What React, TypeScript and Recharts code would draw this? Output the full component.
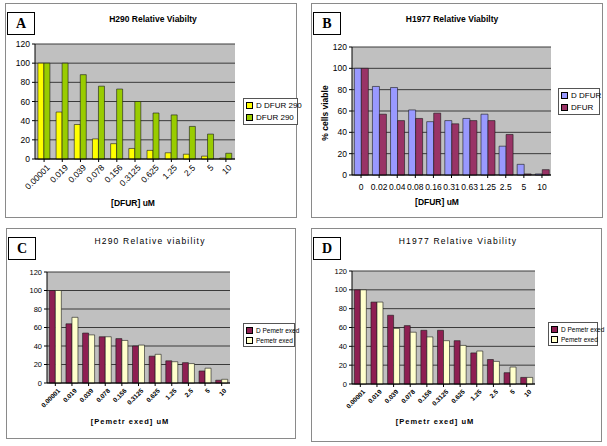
import { Bar, BarChart, CartesianGrid, Legend, XAxis, YAxis } from "recharts";

// dose labels
const dosesH290 = ["0.00001", "0.019", "0.039", "0.078", "0.156", "0.3125", "0.625", "1.25", "2.5", "5", "10"];
const dosesH1977 = ["0", "0.02", "0.04", "0.08", "0.16", "0.31", "0.63", "1.25", "2.5", "5", "10"];

// A - H290 DFUR
const dDfur290 = [100, 49, 36, 21, 16, 11, 9, 6.5, 5, 3, 1];
const dfur290 = [100, 100, 88, 76, 73, 60, 48, 46, 34, 26, 6];

// B - H1977 DFUR
const dDfur1977 = [100, 83, 82, 61, 50, 51, 53, 57, 27, 10, 1];
const dfur1977 = [100, 57, 51, 53, 58, 48, 51, 51, 38, 1, 5];

// C - H290 pemetrexed
const dPem290 = [100, 64, 54, 50, 48, 40, 29, 24, 22, 13, 3];
const pem290 = [100, 71, 52, 50, 46, 41, 31, 23, 21, 16, 4];

// D - H1977 pemetrexed
const dPem1977 = [100, 87, 73, 62, 57, 57, 46, 33, 26, 12, 7];
const pem1977 = [100, 87, 59, 55, 50, 46, 41, 35, 24, 18, 7];

const yTicks = [0, 20, 40, 60, 80, 100, 120];
const FONT = "'Liberation Sans', Arial, sans-serif";

type Box = { x: number; y: number; w: number; h: number };
type Plot = { l: number; t: number; r: number; b: number };
type SeriesDef = { name: string; values: number[]; fill: string };

type PanelProps = {
  letter: string;
  box: Box;
  plot: Plot;
  title: string;
  titleX: number;
  titleY: number;
  titleStyle?: React.CSSProperties;
  categories: string[];
  series: SeriesDef[];
  xTitle: string;
  xTitleX: number;
  xTitleY: number;
  xTitleStyle?: React.CSSProperties;
  yTitle?: string;
  yTitleX?: number;
  yTitleY?: number;
  yTickSize?: number;
  legendBox: Box;
  legendFont?: React.CSSProperties;
  rotated: boolean;
  tickStyle: Record<string, unknown>;
  gap: string;
};

function Panel(p: PanelProps) {
  const yW = 24;
  const xH = 40;
  const data = p.categories.map((c, i) => {
    const row: Record<string, string | number> = { dose: c };
    p.series.forEach((s) => (row[s.name] = s.values[i]));
    return row;
  });
  const margin = {
    left: p.plot.l - p.box.x - yW,
    top: p.plot.t - p.box.y,
    right: p.box.x + p.box.w - p.plot.r,
    bottom: p.box.y + p.box.h - p.plot.b - xH,
  };
  const lb = p.legendBox;

  return (
    <>
      <div
        style={{
          position: "absolute",
          left: p.box.x,
          top: p.box.y,
          width: p.box.w,
          height: p.box.h,
          border: "1px solid #8a8a8a",
          boxSizing: "border-box",
          background: "#fff",
        }}
      />
      <div style={{ position: "absolute", left: p.box.x, top: p.box.y }}>
        <BarChart
          width={p.box.w}
          height={p.box.h}
          data={data}
          margin={margin}
          barCategoryGap={p.gap}
          barGap={0}
        >
          <CartesianGrid vertical={false} fill="#c0c0c0" stroke="#3a3a3a" strokeWidth={1} />
          <XAxis
            dataKey="dose"
            height={xH}
            interval={0}
            stroke="#000"
            tickSize={3}
            tick={{ fill: "#000", fontFamily: FONT, ...p.tickStyle }}
            angle={p.rotated ? -45 : 0}
            textAnchor={p.rotated ? "end" : "middle"}
            dx={p.rotated ? 2 : 0}
          />
          <YAxis
            width={yW}
            domain={[0, 120]}
            ticks={yTicks}
            interval={0}
            stroke="#000"
            tickSize={3}
            tick={{ fill: "#000", fontFamily: FONT, fontSize: p.yTickSize ?? 8.5 }}
          />
          <Legend
            layout="vertical"
            align="center"
            verticalAlign="middle"
            wrapperStyle={{ left: lb.x - p.box.x, top: lb.y - p.box.y, width: lb.w, height: lb.h }}
            content={() => (
              <div
                style={{
                  width: lb.w,
                  height: lb.h,
                  boxSizing: "border-box",
                  border: "1px solid #555",
                  background: "#fff",
                  display: "flex",
                  flexDirection: "column",
                  justifyContent: "space-around",
                  padding: "1px 2px",
                  fontFamily: FONT,
                  fontSize: 8,
                  ...p.legendFont,
                }}
              >
                {p.series.map((s) => (
                  <div key={s.name} style={{ display: "flex", alignItems: "center", whiteSpace: "nowrap" }}>
                    <div
                      style={{
                        flex: "0 0 auto",
                        width: 5,
                        height: 5,
                        minWidth: 5,
                        background: s.fill,
                        border: "1px solid #000",
                        marginRight: 3,
                      }}
                    />
                    <span>{s.name}</span>
                  </div>
                ))}
              </div>
            )}
          />
          {p.series.map((s) => (
            <Bar
              key={s.name}
              dataKey={s.name}
              fill={s.fill}
              stroke="#1a1a1a"
              strokeWidth={0.6}
              isAnimationActive={false}
            />
          ))}
        </BarChart>
      </div>
      <div
        style={{
          position: "absolute",
          left: p.box.x + 2,
          top: p.box.y + 9,
          width: 28,
          height: 23,
          border: "1px solid #000",
          background: "#fff",
          boxSizing: "border-box",
          fontFamily: "'Liberation Serif', 'Times New Roman', serif",
          fontWeight: "bold",
          fontSize: 14,
          display: "flex",
          alignItems: "center",
          justifyContent: "center",
        }}
      >
        {p.letter}
      </div>
      <div
        style={{
          position: "absolute",
          left: p.titleX - 100,
          top: p.titleY - 6,
          width: 200,
          textAlign: "center",
          fontFamily: FONT,
          fontSize: 8.5,
          fontWeight: "bold",
          lineHeight: "12px",
          ...p.titleStyle,
        }}
      >
        {p.title}
      </div>
      <div
        style={{
          position: "absolute",
          left: p.xTitleX - 80,
          top: p.xTitleY - 6,
          width: 160,
          textAlign: "center",
          fontFamily: FONT,
          fontSize: 8.5,
          fontWeight: "bold",
          lineHeight: "12px",
          ...p.xTitleStyle,
        }}
      >
        {p.xTitle}
      </div>
      {p.yTitle && (
        <div
          style={{
            position: "absolute",
            left: (p.yTitleX ?? 0) - 60,
            top: (p.yTitleY ?? 0) - 6,
            width: 120,
            textAlign: "center",
            fontFamily: FONT,
            fontSize: 8.5,
            fontWeight: "bold",
            lineHeight: "12px",
            transform: "rotate(-90deg)",
          }}
        >
          {p.yTitle}
        </div>
      )}
    </>
  );
}

const spaced: React.CSSProperties = { fontWeight: "normal", letterSpacing: 1.2, fontSize: 8.5 };

export default function App() {
  return (
    <div style={{ position: "fixed", left: 0, top: 0, width: 607, height: 446, background: "#fff" }}>
      <Panel
        letter="A"
        box={{ x: 5, y: 3, w: 292, h: 215 }}
        plot={{ l: 35, t: 44, r: 235, b: 159 }}
        title="H290 Relative Viabilty"
        titleX={153}
        titleY={19}
        categories={dosesH290}
        series={[
          { name: "D DFUR 290", values: dDfur290, fill: "#ffff00" },
          { name: "DFUR 290", values: dfur290, fill: "#99cc00" },
        ]}
        xTitle="[DFUR] uM"
        xTitleX={133}
        xTitleY={203}
        legendBox={{ x: 243, y: 98, w: 55, h: 27 }}
        rotated
        tickStyle={{ fontSize: 8.5 }}
        gap="16%"
      />
      <Panel
        letter="B"
        box={{ x: 311, y: 3, w: 292, h: 215 }}
        plot={{ l: 352, t: 47, r: 551, b: 175 }}
        title="H1977 Relative Viabilty"
        titleX={452}
        titleY={19}
        categories={dosesH1977}
        series={[
          { name: "D DFUR", values: dDfur1977, fill: "#9999ff" },
          { name: "DFUR", values: dfur1977, fill: "#993366" },
        ]}
        xTitle="[DFUR] uM"
        xTitleX={437}
        xTitleY={202}
        yTitle="% cells viable"
        yTitleX={325}
        yTitleY={113}
        legendBox={{ x: 558, y: 88, w: 42, h: 27 }}
        rotated={false}
        tickStyle={{ fontSize: 8.5, dy: 4 }}
        gap="13%"
      />
      <Panel
        letter="C"
        box={{ x: 6, y: 228, w: 290, h: 211 }}
        plot={{ l: 47, t: 272, r: 230, b: 383 }}
        title="H290 Relative viability"
        titleX={150}
        titleY={241}
        titleStyle={spaced}
        categories={dosesH290}
        series={[
          { name: "D Pemetr exed", values: dPem290, fill: "#8e1f52" },
          { name: "Pemetr exed", values: pem290, fill: "#ffffcc" },
        ]}
        xTitle="[Pemetr exed] uM"
        xTitleX={130}
        xTitleY={422}
        xTitleStyle={{ letterSpacing: 1, fontSize: 7.5 }}
        yTickSize={7.5}
        legendBox={{ x: 243, y: 323, w: 52, h: 24 }}
        legendFont={{ fontSize: 6.5 }}
        rotated
        tickStyle={{ fontSize: 6.5, fontWeight: "bold" }}
        gap="14%"
      />
      <Panel
        letter="D"
        box={{ x: 311, y: 228, w: 291, h: 214 }}
        plot={{ l: 352, t: 271, r: 535, b: 384 }}
        title="H1977 Relative Viability"
        titleX={458}
        titleY={241}
        titleStyle={spaced}
        categories={dosesH290}
        series={[
          { name: "D Pemetr exed", values: dPem1977, fill: "#8e1f52" },
          { name: "Pemetr exed", values: pem1977, fill: "#ffffcc" },
        ]}
        xTitle="[Pemetr exed] uM"
        xTitleX={435}
        xTitleY={422}
        xTitleStyle={{ letterSpacing: 1, fontSize: 7.5 }}
        yTickSize={7.5}
        legendBox={{ x: 548, y: 322, w: 50, h: 24 }}
        legendFont={{ fontSize: 6.5 }}
        rotated
        tickStyle={{ fontSize: 6.5, fontWeight: "bold" }}
        gap="14%"
      />
    </div>
  );
}
